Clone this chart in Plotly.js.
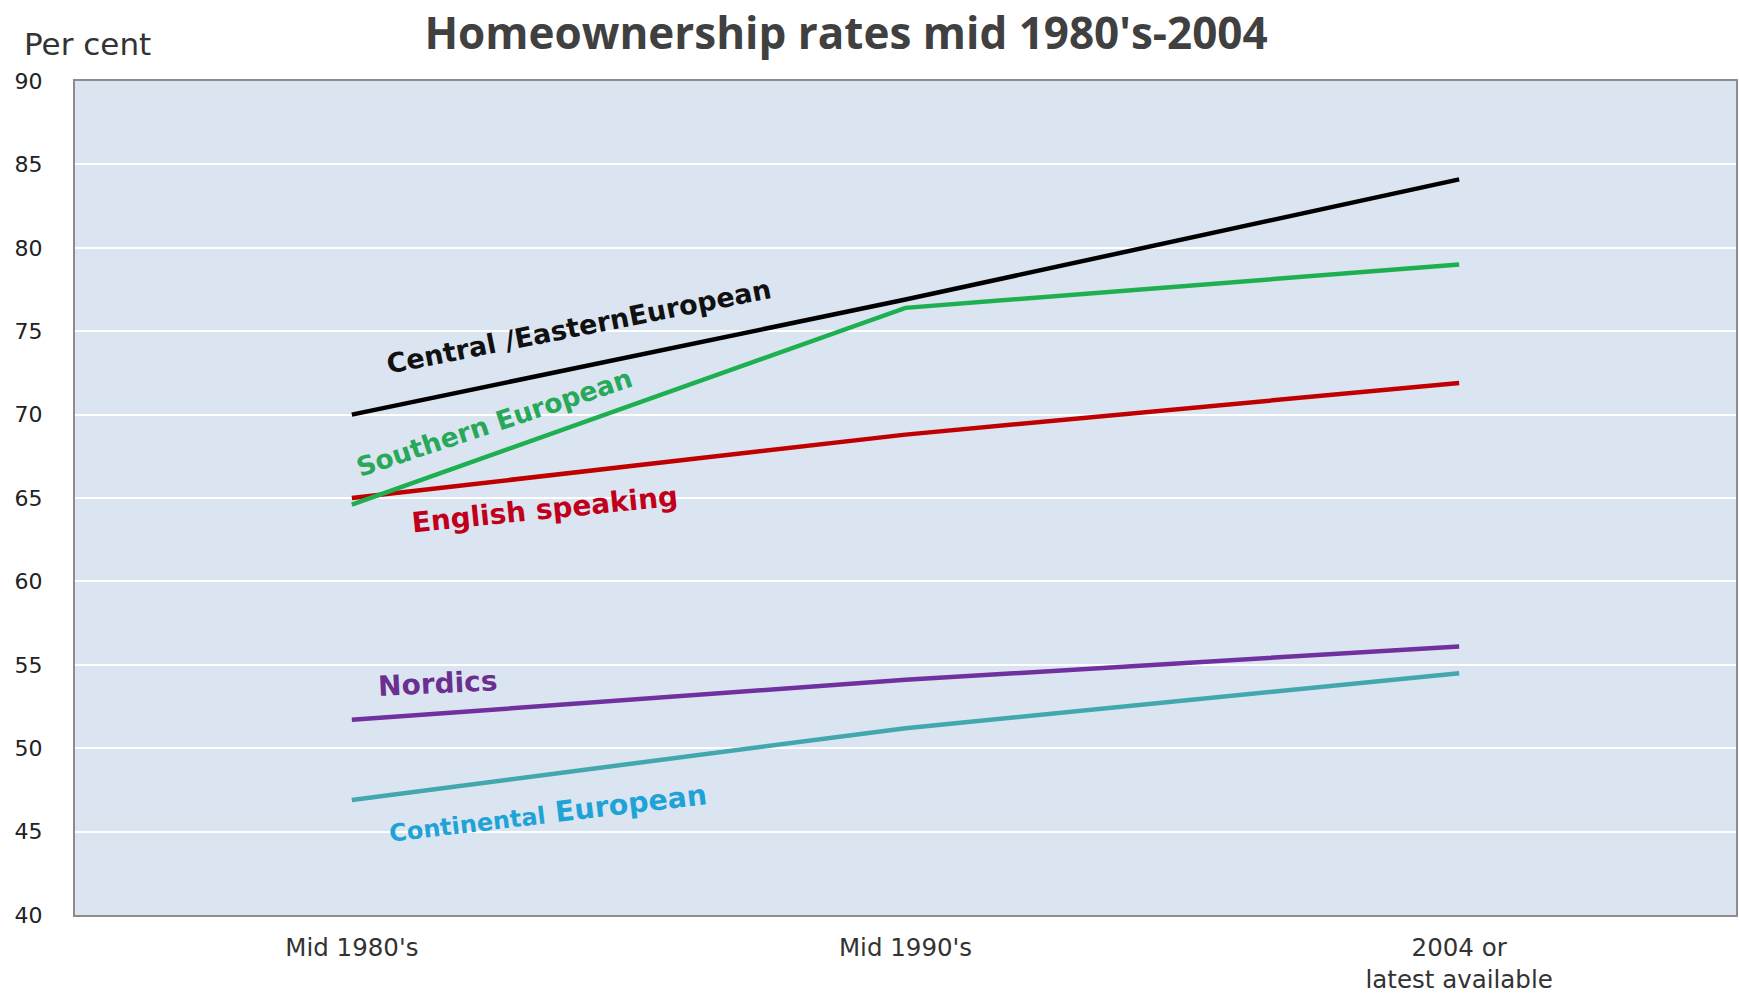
<!DOCTYPE html>
<html>
<head>
<meta charset="utf-8">
<script src="https://cdn.plot.ly/plotly-3.0.1.min.js"></script>
<style>
  html, body { margin: 0; padding: 0; background: #ffffff; }
  #chart { width: 1739px; height: 993px; }
</style>
</head>
<body>
<div id="chart"></div>
<script>
// Categories (x axis)
const categories = ["Mid 1980's", "Mid 1990's", "2004 or<br>latest available"];

// Series values (per cent)
const centralEastern = [70.0, 76.9, 84.1];
const southernEuropean = [64.6, 76.4, 79.0];
const englishSpeaking = [65.0, 68.8, 71.9];
const nordics = [51.7, 54.1, 56.1];
const continentalEuropean = [46.9, 51.2, 54.5];

// Series names
const seriesNames = ["Central /EasternEuropean", "Southern European", "English speaking", "Nordics", "Continental European"];

// Y tick values
const yTicks = [40, 45, 50, 55, 60, 65, 70, 75, 80, 85, 90];

const idx = categories.map((c, i) => i);

function line(y, name, color) {
  return {
    type: 'scatter', mode: 'lines', x: idx, y: y, name: name,
    line: { color: color, width: 4.5 }, hoverinfo: 'skip'
  };
}

const data = [
  line(continentalEuropean, seriesNames[4], '#42a7ae'),
  line(nordics, seriesNames[3], '#7030a0'),
  line(englishSpeaking, seriesNames[2], '#c00000'),
  line(southernEuropean, seriesNames[1], '#1eb050'),
  line(centralEastern, seriesNames[0], '#000000')
];

const labelFont = 'DejaVu Sans, Arial, sans-serif';

const layout = {
  width: 1739, height: 993,
  paper_bgcolor: '#ffffff',
  plot_bgcolor: '#dbe5f1',
  showlegend: false,
  margin: { l: 75, r: 3, t: 81, b: 78 },
  title: {
    text: "<b>Homeownership rates mid 1980's-2004</b>",
    font: { family: 'Open Sans, sans-serif', size: 44, color: '#404040' },
    xref: 'container', x: 0.4865, xanchor: 'center',
    yref: 'container', y: 0.966, yanchor: 'middle'
  },
  xaxis: {
    type: 'linear',
    range: [-0.5, 2.5],
    tickmode: 'array',
    tickvals: idx,
    ticktext: categories,
    showgrid: false,
    zeroline: false,
    showline: true, mirror: true, linecolor: '#8c8c8c', linewidth: 2,
    ticks: '',
    ticklabelstandoff: 10,
    tickfont: { family: labelFont, size: 24.5, color: '#333333' }
  },
  yaxis: {
    range: [40, 90],
    tickmode: 'array',
    tickvals: yTicks,
    ticktext: yTicks.map(String),
    showgrid: true, gridcolor: '#ffffff', gridwidth: 2,
    zeroline: false,
    showline: true, mirror: true, linecolor: '#8c8c8c', linewidth: 2,
    ticks: '',
    ticklabelstandoff: 26,
    tickfont: { family: labelFont, size: 22, color: '#222222' }
  },
  annotations: [
    {
      xref: 'paper', yref: 'paper', x: -0.032, y: 1.044,
      xanchor: 'left', yanchor: 'middle', showarrow: false,
      text: 'Per cent',
      font: { family: labelFont, size: 31, color: '#333333' }
    },
    {
      xref: 'x', yref: 'y', x: 0.41, y: 75.3, showarrow: false,
      text: '<b>' + seriesNames[0] + '</b>', textangle: -11.2,
      font: { family: labelFont, size: 27, color: '#111111' }
    },
    {
      xref: 'x', yref: 'y', x: 0.257, y: 69.5, showarrow: false,
      text: '<b>' + seriesNames[1] + '</b>', textangle: -18.4,
      font: { family: labelFont, size: 26.5, color: '#27a85a' }
    },
    {
      xref: 'x', yref: 'y', x: 0.348, y: 64.3, showarrow: false,
      text: '<b>' + seriesNames[2] + '</b>', textangle: -5.8,
      font: { family: labelFont, size: 28, color: '#c0001a' }
    },
    {
      xref: 'x', yref: 'y', x: 0.155, y: 53.9, showarrow: false,
      text: '<b>' + seriesNames[3] + '</b>', textangle: -2.8,
      font: { family: labelFont, size: 28, color: '#6a2f8f' }
    },
    {
      xref: 'x', yref: 'y', x: 0.354, y: 46.1, showarrow: false,
      text: '<b><span style="font-size:24px">Continental</span> European</b>', textangle: -6.8,
      font: { family: labelFont, size: 28.5, color: '#1fa3d6' }
    }
  ]
};

Plotly.newPlot('chart', data, layout, { staticPlot: true, displayModeBar: false });
</script>
</body>
</html>
